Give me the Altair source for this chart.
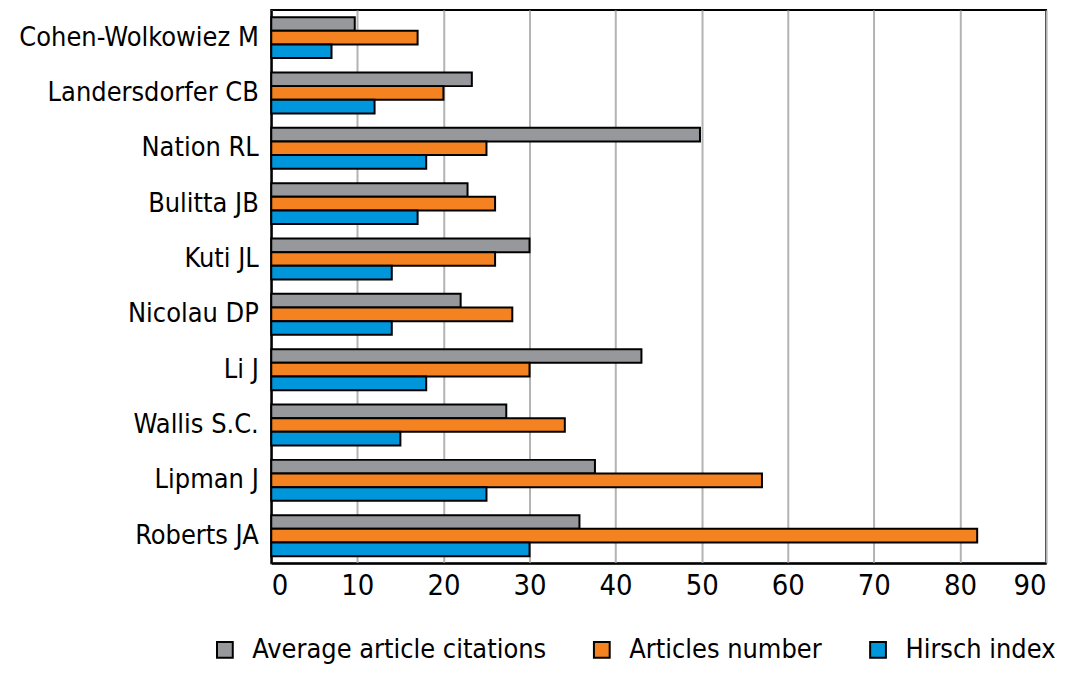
import altair as alt
import pandas as pd

authors = ["Cohen-Wolkowiez M", "Landersdorfer CB", "Nation RL", "Bulitta JB", "Kuti JL",
           "Nicolau DP", "Li J", "Wallis S.C.", "Lipman J", "Roberts JA"]
series = ["Average article citations", "Articles number", "Hirsch index"]
avg_citations = [9.7, 23.3, 49.8, 22.8, 30.0, 22.0, 43.0, 27.3, 37.6, 35.8]
articles_number = [17, 20, 25, 26, 26, 28, 30, 34.1, 57, 82]
hirsch_index = [7, 12, 18, 17, 14, 14, 18, 15, 25, 30]
colors = ["#97989b", "#f58220", "#0096db"]
ticks = [0, 10, 20, 30, 40, 50, 60, 70, 80, 90]

rows = []
for vals, s in zip([avg_citations, articles_number, hirsch_index], series):
    for a, v in zip(authors, vals):
        rows.append({"author": a, "series": s, "value": v})
df = pd.DataFrame(rows)

FONT = "DejaVu Sans Condensed"

chart = alt.Chart(df).mark_bar(stroke="black", strokeWidth=2).encode(
    y=alt.Y("author:N", sort=authors, title=None,
            scale=alt.Scale(paddingInner=0.26, paddingOuter=0.13),
            axis=alt.Axis(ticks=False, labelPadding=13, domain=True, domainColor="black",
                          domainWidth=2, labelFontSize=27, labelColor="black", labelFont=FONT,
                          labelLimit=400)),
    yOffset=alt.YOffset("series:N", sort=series),
    x=alt.X("value:Q", title=None,
            scale=alt.Scale(domain=[0, 90], nice=False),
            axis=alt.Axis(values=ticks, ticks=False, labelPadding=8, grid=True,
                          gridColor="#b3b3b3", gridWidth=2, domainColor="black", domainWidth=2,
                          labelFontSize=29, labelColor="black", labelFont=FONT)),
    color=alt.Color("series:N", sort=series,
                    scale=alt.Scale(domain=series, range=colors),
                    legend=alt.Legend(title=None, orient="none", direction="horizontal",
                                      legendX=-60, legendY=628, symbolType="square",
                                      symbolSize=250, symbolStrokeColor="black",
                                      symbolStrokeWidth=2, labelFontSize=27, labelFont=FONT,
                                      labelColor="black", columnPadding=42, labelOffset=14,
                                      labelLimit=500)),
).properties(
    width=777, height=555,
    autosize=alt.AutoSizeParams(type="none"),
    padding={"left": 264, "top": 1, "right": 18, "bottom": 109},
).configure_view(stroke="black", strokeWidth=2)

chart.save("out.html", embed_options={"renderer": "svg", "actions": False})
